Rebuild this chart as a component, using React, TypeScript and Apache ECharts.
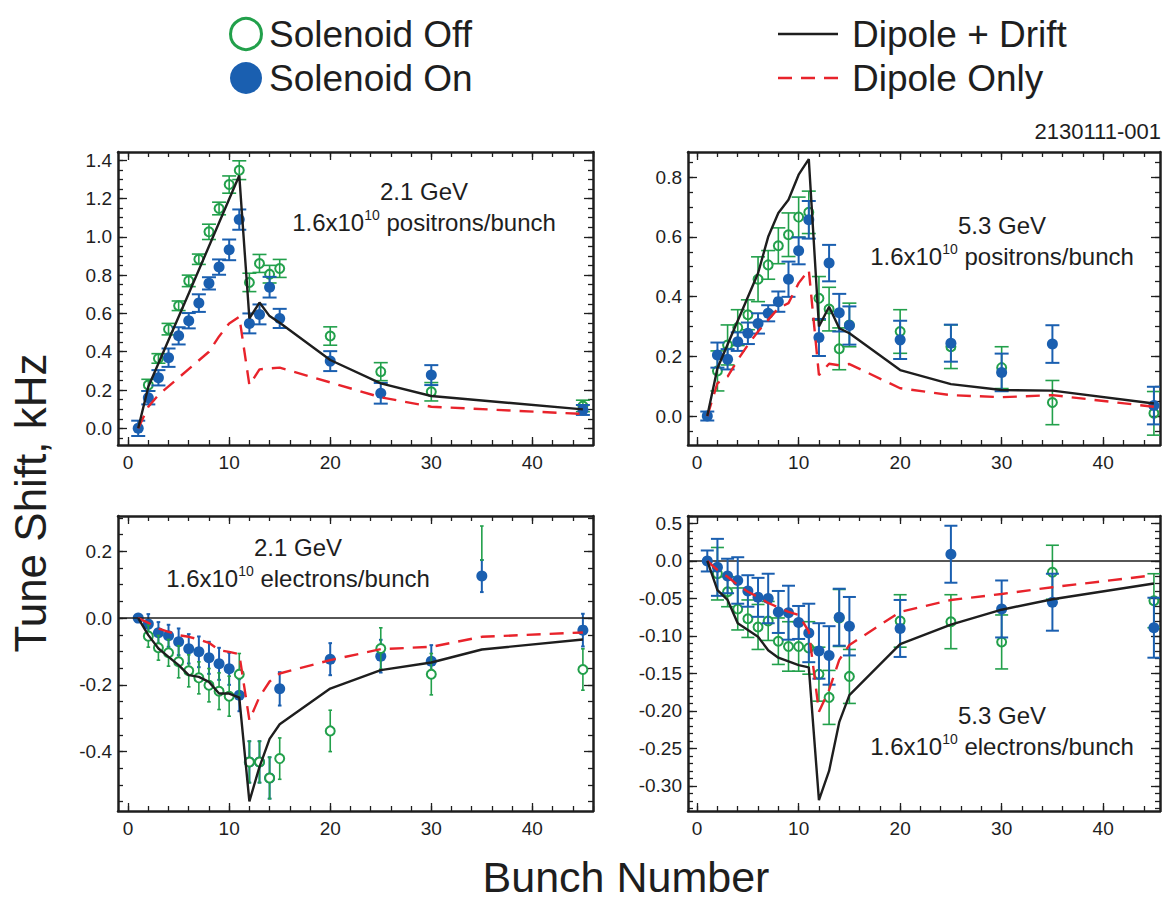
import React, { useEffect, useRef } from 'react';
import * as echarts from 'echarts';

const FONT = "'Liberation Sans', Arial, Helvetica, sans-serif";
const GREEN = '#22a04b';
const BLUE = '#1a5fb0';
const RED = '#e8232b';
const BLACK = '#1e1e1e';

// ---------- shared ticks ----------
const xTickValues = [0, 10, 20, 30, 40];
const xTickLabels = ['0', '10', '20', '30', '40'];

// ---------- top-left: 2.1 GeV positrons ----------
const tlOnX = [1, 2, 3, 4, 5, 6, 7, 8, 9, 10, 11, 12, 13, 14, 15, 20, 25, 30, 45];
const tlOn = [0.0, 0.16, 0.264, 0.369, 0.483, 0.562, 0.654, 0.757, 0.842, 0.932, 1.09, 0.548, 0.595, 0.737, 0.574, 0.351, 0.183, 0.278, 0.096];
const tlOnErr = [0.04, 0.035, 0.04, 0.048, 0.045, 0.04, 0.046, 0.032, 0.04, 0.054, 0.053, 0.052, 0.052, 0.054, 0.05, 0.052, 0.054, 0.052, 0.026];
const tlOffX = [2, 3, 4, 5, 6, 7, 8, 9, 10, 11, 12, 13, 14, 15, 20, 25, 30, 45];
const tlOff = [0.226, 0.365, 0.518, 0.64, 0.77, 0.883, 1.026, 1.148, 1.273, 1.348, 0.762, 0.861, 0.805, 0.835, 0.482, 0.296, 0.191, 0.117];
const tlOffErr = [0.03, 0.025, 0.03, 0.025, 0.03, 0.027, 0.04, 0.033, 0.045, 0.049, 0.048, 0.047, 0.046, 0.047, 0.048, 0.047, 0.048, 0.03];
const tlDriftX = [1, 2, 6, 11, 12, 13, 14, 15, 20, 25, 30, 45];
const tlDrift = [0, 0.217, 0.704, 1.32, 0.574, 0.657, 0.586, 0.551, 0.357, 0.235, 0.169, 0.099];
const tlDipoleX = [1, 2, 3, 8, 9, 10, 11, 12, 13, 15, 20, 25, 30, 45];
const tlDipole = [0, 0.113, 0.174, 0.4, 0.48, 0.548, 0.583, 0.226, 0.308, 0.317, 0.24, 0.162, 0.113, 0.075];
const tlYTicks = [0, 0.2, 0.4, 0.6, 0.8, 1.0, 1.2, 1.4];
const tlYLabels = ['0.0', '0.2', '0.4', '0.6', '0.8', '1.0', '1.2', '1.4'];

// ---------- top-right: 5.3 GeV positrons ----------
const trOnX = [1, 2, 3, 4, 5, 6, 7, 8, 9, 10, 11, 12, 13, 14, 15, 20, 25, 30, 35, 45];
const trOn = [0.0, 0.204, 0.19, 0.249, 0.277, 0.31, 0.344, 0.383, 0.458, 0.553, 0.657, 0.263, 0.512, 0.346, 0.303, 0.255, 0.244, 0.146, 0.241, 0.035];
const trOnErr = [0.015, 0.042, 0.034, 0.031, 0.036, 0.034, 0.027, 0.034, 0.059, 0.045, 0.063, 0.062, 0.061, 0.063, 0.064, 0.064, 0.062, 0.063, 0.063, 0.063];
const trOffX = [2, 3, 4, 5, 6, 7, 8, 9, 10, 11, 12, 13, 14, 15, 20, 25, 30, 35, 45];
const trOff = [0.151, 0.238, 0.296, 0.339, 0.458, 0.506, 0.57, 0.607, 0.666, 0.682, 0.394, 0.358, 0.225, 0.305, 0.283, 0.232, 0.162, 0.045, 0.009];
const trOffErr = [0.067, 0.067, 0.06, 0.05, 0.075, 0.048, 0.06, 0.073, 0.067, 0.071, 0.073, 0.073, 0.07, 0.073, 0.073, 0.073, 0.07, 0.074, 0.073];
const trDriftX = [1, 2, 6, 7, 8, 9, 10, 11, 12, 13, 14, 15, 20, 25, 30, 35, 45];
const trDrift = [0, 0.16, 0.478, 0.6, 0.68, 0.724, 0.808, 0.86, 0.3, 0.366, 0.294, 0.277, 0.154, 0.107, 0.087, 0.085, 0.042];
const trDipoleX = [1, 2, 3, 4, 5, 6, 7, 8, 9, 10, 11, 12, 13, 14, 15, 20, 25, 30, 35, 45];
const trDipole = [0, 0.11, 0.132, 0.188, 0.238, 0.283, 0.322, 0.361, 0.378, 0.445, 0.489, 0.137, 0.175, 0.17, 0.174, 0.093, 0.07, 0.063, 0.07, 0.031];
const trYTicks = [0, 0.2, 0.4, 0.6, 0.8];
const trYLabels = ['0.0', '0.2', '0.4', '0.6', '0.8'];

// ---------- bottom-left: 2.1 GeV electrons ----------
const blOnX = [1, 2, 3, 4, 5, 6, 7, 8, 9, 10, 11, 12, 13, 14, 15, 20, 25, 30, 35, 45];
const blOn = [0, -0.018, -0.044, -0.053, -0.071, -0.092, -0.101, -0.119, -0.137, -0.152, -0.231, -0.431, -0.431, -0.479, -0.212, -0.123, -0.114, -0.129, 0.126, -0.036];
const blOnErr = [0.01, 0.03, 0.032, 0.033, 0.04, 0.044, 0.046, 0.048, 0.048, 0.048, 0.048, 0.062, 0.062, 0.062, 0.05, 0.048, 0.049, 0.048, 0.048, 0.049];
const blOffX = [2, 3, 4, 5, 6, 7, 8, 9, 10, 11, 12, 13, 14, 15, 20, 25, 30, 35, 45];
const blOff = [-0.054, -0.089, -0.104, -0.131, -0.158, -0.179, -0.201, -0.219, -0.234, -0.168, -0.431, -0.431, -0.479, -0.421, -0.338, -0.091, -0.168, 0.225, -0.154];
const blOffErr = [0.033, 0.037, 0.04, 0.048, 0.048, 0.048, 0.05, 0.055, 0.06, 0.062, 0.062, 0.062, 0.062, 0.062, 0.062, 0.062, 0.062, 0.051, 0.062];
const blOffBarOnly = [35];
const blDriftX = [1, 2, 3, 4, 5, 6, 7, 8, 9, 10, 11, 12, 13, 14, 15, 20, 25, 30, 35, 45];
const blDrift = [0, -0.051, -0.091, -0.116, -0.141, -0.171, -0.176, -0.191, -0.226, -0.226, -0.238, -0.549, -0.446, -0.362, -0.318, -0.211, -0.156, -0.133, -0.094, -0.064];
const blDipoleX = [1, 2, 3, 4, 5, 6, 7, 8, 9, 10, 11, 12, 13, 14, 15, 20, 25, 30, 35, 45];
const blDipole = [0, -0.014, -0.031, -0.041, -0.051, -0.056, -0.064, -0.074, -0.096, -0.101, -0.108, -0.306, -0.236, -0.19, -0.166, -0.126, -0.093, -0.086, -0.056, -0.043];
const blYTicks = [-0.4, -0.2, 0, 0.2];
const blYLabels = ['-0.4', '-0.2', '0.0', '0.2'];

// ---------- bottom-right: 5.3 GeV electrons ----------
const brOnX = [1, 2, 3, 4, 5, 6, 7, 8, 9, 10, 11, 12, 13, 14, 15, 20, 25, 30, 35, 45];
const brOn = [0, -0.0085, -0.02, -0.026, -0.04, -0.0485, -0.05, -0.068, -0.069, -0.082, -0.096, -0.12, -0.126, -0.075, -0.087, -0.09, 0.009, -0.064, -0.055, -0.089];
const brOnErr = [0.014, 0.038, 0.023, 0.031, 0.021, 0.026, 0.033, 0.028, 0.036, 0.022, 0.039, 0.037, 0.039, 0.038, 0.039, 0.038, 0.038, 0.038, 0.038, 0.04];
const brOffX = [2, 3, 4, 5, 6, 7, 8, 9, 10, 11, 12, 13, 14, 15, 20, 25, 30, 35, 45];
const brOff = [-0.017, -0.041, -0.064, -0.077, -0.088, -0.08, -0.107, -0.114, -0.114, -0.116, -0.151, -0.182, -0.076, -0.154, -0.08, -0.081, -0.108, -0.015, -0.053];
const brOffErr = [0.035, 0.02, 0.028, 0.025, 0.03, 0.026, 0.031, 0.033, 0.033, 0.035, 0.036, 0.036, 0.038, 0.036, 0.035, 0.036, 0.036, 0.036, 0.036];
const brDriftX = [1, 2, 3, 4, 5, 6, 7, 8, 9, 10, 11, 12, 13, 14, 15, 20, 25, 30, 35, 45];
const brDrift = [0, -0.039, -0.052, -0.083, -0.092, -0.101, -0.119, -0.129, -0.134, -0.139, -0.142, -0.319, -0.28, -0.215, -0.179, -0.111, -0.085, -0.065, -0.051, -0.03];
const brDipoleX = [1, 2, 3, 4, 5, 6, 7, 8, 9, 10, 11, 12, 13, 14, 15, 20, 25, 30, 35, 45];
const brDipole = [0, -0.012, -0.021, -0.032, -0.041, -0.048, -0.056, -0.062, -0.068, -0.072, -0.094, -0.201, -0.172, -0.132, -0.112, -0.068, -0.052, -0.044, -0.035, -0.019];
const brYTicks = [-0.3, -0.25, -0.2, -0.15, -0.1, -0.05, 0, 0.05];
const brYLabels = ['-0.30', '-0.25', '-0.20', '-0.15', '-0.10', '-0.05', '0.0', '0.5'];

function steps(a: number, b: number, step: number): number[] {
  const out: number[] = [];
  const n = Math.round((b - a) / step);
  for (let i = 0; i <= n; i++) out.push(+(a + i * step).toFixed(4));
  return out;
}

type Panel = {
  rect: [number, number, number, number];
  xMin: number; xMax: number; yMin: number; yMax: number;
  xMinor: number[];
  yTicks: number[]; yLabels: string[]; yMinor: number[];
  onX: number[]; on: number[]; onErr: number[];
  offX: number[]; off: number[]; offErr: number[]; offBarOnly: number[];
  driftX: number[]; drift: number[]; dipoleX: number[]; dipole: number[];
  cap: number; greenOnTop: boolean; zeroLine: boolean;
  label1: string; particle: string;
  labelPos: [number, number];
};

const panels: Panel[] = [
  {
    rect: [118, 152, 475, 293], xMin: -1, xMax: 46, yMin: -0.087, yMax: 1.443,
    xMinor: steps(0, 46, 2), yTicks: tlYTicks, yLabels: tlYLabels, yMinor: steps(-0.05, 1.4, 0.05),
    onX: tlOnX, on: tlOn, onErr: tlOnErr, offX: tlOffX, off: tlOff, offErr: tlOffErr, offBarOnly: [],
    driftX: tlDriftX, drift: tlDrift, dipoleX: tlDipoleX, dipole: tlDipole,
    cap: 7, greenOnTop: false, zeroLine: false,
    label1: '2.1 GeV', particle: 'positrons/bunch', labelPos: [424, 191],
  },
  {
    rect: [688, 152, 472, 293], xMin: -0.9, xMax: 45.6, yMin: -0.097, yMax: 0.884,
    xMinor: steps(0, 44, 2), yTicks: trYTicks, yLabels: trYLabels, yMinor: steps(-0.05, 0.85, 0.05),
    onX: trOnX, on: trOn, onErr: trOnErr, offX: trOffX, off: trOff, offErr: trOffErr, offBarOnly: [],
    driftX: trDriftX, drift: trDrift, dipoleX: trDipoleX, dipole: trDipole,
    cap: 7, greenOnTop: false, zeroLine: false,
    label1: '5.3 GeV', particle: 'positrons/bunch', labelPos: [1002, 225],
  },
  {
    rect: [118, 516, 475, 295], xMin: -1, xMax: 46, yMin: -0.578, yMax: 0.306,
    xMinor: steps(0, 46, 2), yTicks: blYTicks, yLabels: blYLabels, yMinor: steps(-0.55, 0.3, 0.05),
    onX: blOnX, on: blOn, onErr: blOnErr, offX: blOffX, off: blOff, offErr: blOffErr, offBarOnly: blOffBarOnly,
    driftX: blDriftX, drift: blDrift, dipoleX: blDipoleX, dipole: blDipole,
    cap: 1.8, greenOnTop: true, zeroLine: true,
    label1: '2.1 GeV', particle: 'electrons/bunch', labelPos: [298, 547],
  },
  {
    rect: [688, 516, 472, 295], xMin: -0.9, xMax: 45.6, yMin: -0.3335, yMax: 0.06,
    xMinor: steps(0, 44, 2), yTicks: brYTicks, yLabels: brYLabels, yMinor: steps(-0.33, 0.06, 0.01),
    onX: brOnX, on: brOn, onErr: brOnErr, offX: brOffX, off: brOff, offErr: brOffErr, offBarOnly: [],
    driftX: brDriftX, drift: brDrift, dipoleX: brDipoleX, dipole: brDipole,
    cap: 6.5, greenOnTop: false, zeroLine: true,
    label1: '5.3 GeV', particle: 'electrons/bunch', labelPos: [1002, 715],
  },
];

function errorBars(xs: number[], ys: number[], es: number[], color: string, width: number, cap: number, xi: number, z: number) {
  return {
    type: 'custom',
    xAxisIndex: xi, yAxisIndex: xi, z, silent: true, clip: true,
    data: xs.map((x, k) => [x, ys[k], es[k]]),
    encode: { x: 0, y: 1 },
    renderItem: (_p: any, api: any) => {
      const x = api.value(0), y = api.value(1), e = api.value(2);
      const a = api.coord([x, y + e]);
      const b = api.coord([x, y - e]);
      const style = { stroke: color, lineWidth: width, fill: 'none' };
      return {
        type: 'group',
        children: [
          { type: 'line', shape: { x1: a[0], y1: a[1], x2: b[0], y2: b[1] }, style },
          { type: 'line', shape: { x1: a[0] - cap, y1: a[1], x2: a[0] + cap, y2: a[1] }, style },
          { type: 'line', shape: { x1: b[0] - cap, y1: b[1], x2: b[0] + cap, y2: b[1] }, style },
        ],
      };
    },
  };
}

function buildOption() {
  const grid: any[] = [];
  const xAxis: any[] = [];
  const yAxis: any[] = [];
  const series: any[] = [];
  const axisLine = { show: true, onZero: false, lineStyle: { color: BLACK, width: 2.5 } };
  const tickStyle = { color: BLACK, width: 1.3 };

  panels.forEach((p, i) => {
    grid.push({ left: p.rect[0], top: p.rect[1], width: p.rect[2], height: p.rect[3], containLabel: false });
    const xBase = { type: 'value', gridIndex: i, min: p.xMin, max: p.xMax, splitLine: { show: false } };
    const yBase = { type: 'value', gridIndex: i, min: p.yMin, max: p.yMax, splitLine: { show: false } };
    xAxis.push({
      ...xBase, position: 'bottom', axisLine,
      axisTick: { show: true, inside: true, length: 8, customValues: xTickValues, lineStyle: tickStyle },
      axisLabel: {
        show: true, customValues: xTickValues, fontSize: 19, color: BLACK, fontFamily: FONT, margin: 8,
        formatter: (v: number) => { const k = xTickValues.findIndex((t) => Math.abs(t - v) < 1e-9); return k >= 0 ? xTickLabels[k] : ''; },
      },
    });
    xAxis.push({
      ...xBase, position: 'bottom', axisLine: { show: false, onZero: false },
      axisTick: { show: true, inside: true, length: 5, customValues: p.xMinor, lineStyle: tickStyle },
      axisLabel: { show: false },
    });
    xAxis.push({
      ...xBase, position: 'top', axisLine,
      axisTick: { show: true, inside: true, length: 8, customValues: xTickValues, lineStyle: tickStyle },
      axisLabel: { show: false },
    });
    xAxis.push({
      ...xBase, position: 'top', axisLine: { show: false, onZero: false },
      axisTick: { show: true, inside: true, length: 5, customValues: p.xMinor, lineStyle: tickStyle },
      axisLabel: { show: false },
    });
    yAxis.push({
      ...yBase, position: 'left', axisLine,
      axisTick: { show: true, inside: true, length: 9, customValues: p.yTicks, lineStyle: tickStyle },
      axisLabel: {
        show: true, customValues: p.yTicks, fontSize: 19, color: BLACK, fontFamily: FONT, margin: 6,
        formatter: (v: number) => { const k = p.yTicks.findIndex((t) => Math.abs(t - v) < 1e-9); return k >= 0 ? p.yLabels[k] : ''; },
      },
    });
    yAxis.push({
      ...yBase, position: 'left', axisLine: { show: false, onZero: false },
      axisTick: { show: true, inside: true, length: 5, customValues: p.yMinor, lineStyle: tickStyle },
      axisLabel: { show: false },
    });
    yAxis.push({
      ...yBase, position: 'right', axisLine,
      axisTick: { show: true, inside: true, length: 9, customValues: p.yTicks, lineStyle: tickStyle },
      axisLabel: { show: false },
    });
    yAxis.push({
      ...yBase, position: 'right', axisLine: { show: false, onZero: false },
      axisTick: { show: true, inside: true, length: 5, customValues: p.yMinor, lineStyle: tickStyle },
      axisLabel: { show: false },
    });

    const ai = i * 4;
    const blueZ = p.greenOnTop ? 3 : 5;
    const greenZ = p.greenOnTop ? 5 : 3;
    const greenFill = p.greenOnTop ? '#ffffff' : 'rgba(255,255,255,0)';

    series.push(errorBars(p.onX, p.on, p.onErr, BLUE, 2, p.cap, ai, blueZ));
    series.push({
      type: 'scatter', xAxisIndex: ai, yAxisIndex: ai, z: blueZ, silent: true,
      symbol: 'circle', symbolSize: 11,
      itemStyle: { color: BLUE, opacity: 1 },
      data: p.onX.map((x, k) => [x, p.on[k]]),
    });
    series.push(errorBars(p.offX, p.off, p.offErr, GREEN, 1.6, p.cap, ai, greenZ));
    series.push({
      type: 'scatter', xAxisIndex: ai, yAxisIndex: ai, z: greenZ, silent: true,
      symbol: 'circle', symbolSize: 9,
      itemStyle: { color: greenFill, borderColor: GREEN, borderWidth: 2, opacity: 1 },
      data: p.offX.map((x, k) => (p.offBarOnly.includes(x) ? { value: [x, p.off[k]], symbolSize: 0 } : [x, p.off[k]])),
    });
    series.push({
      type: 'line', xAxisIndex: ai, yAxisIndex: ai, z: 7, silent: true, symbol: 'none',
      lineStyle: { color: BLACK, width: 2.4 },
      data: p.driftX.map((x, k) => [x, p.drift[k]]),
      markLine: p.zeroLine
        ? { silent: true, symbol: 'none', label: { show: false }, lineStyle: { color: BLACK, width: 1.5, type: 'solid' }, data: [{ yAxis: 0 }] }
        : undefined,
    });
    series.push({
      type: 'line', xAxisIndex: ai, yAxisIndex: ai, z: 6, silent: true, symbol: 'none',
      lineStyle: { color: RED, width: 2.4, type: [14, 9] },
      data: p.dipoleX.map((x, k) => [x, p.dipole[k]]),
    });
  });

  const panelTexts: any[] = [];
  panels.forEach((p) => {
    panelTexts.push({
      type: 'text', x: p.labelPos[0], y: p.labelPos[1], silent: true,
      style: {
        text: p.label1, fontSize: 24, fontFamily: FONT, fill: BLACK,
        align: 'center', verticalAlign: 'middle', textAlign: 'center', textVerticalAlign: 'middle',
      },
    });
    panelTexts.push({
      type: 'text', x: p.labelPos[0], y: p.labelPos[1] + 31, silent: true,
      style: {
        text: '{n|1.6x10}{s|10}{n| ' + p.particle + '}',
        rich: {
          n: { fontSize: 24, fontFamily: FONT, fill: BLACK, lineHeight: 28 },
          s: { fontSize: 14, fontFamily: FONT, fill: BLACK, lineHeight: 14, verticalAlign: 'top' },
        },
        align: 'center', verticalAlign: 'middle', textAlign: 'center', textVerticalAlign: 'middle',
      },
    });
  });

  const legendFont = { fontSize: 37, fontFamily: FONT, fill: BLACK, align: 'left', verticalAlign: 'middle', textAlign: 'left', textVerticalAlign: 'middle' };

  const graphic = [
    { type: 'circle', silent: true, shape: { cx: 246, cy: 34, r: 15.5 }, style: { fill: 'none', stroke: GREEN, lineWidth: 3 } },
    { type: 'text', silent: true, x: 269, y: 34, style: { ...legendFont, text: 'Solenoid Off' } },
    { type: 'circle', silent: true, shape: { cx: 246, cy: 78, r: 16 }, style: { fill: BLUE } },
    { type: 'text', silent: true, x: 269, y: 78, style: { ...legendFont, text: 'Solenoid On' } },
    { type: 'line', silent: true, shape: { x1: 778, y1: 34, x2: 838, y2: 34 }, style: { stroke: BLACK, lineWidth: 2.5 } },
    { type: 'text', silent: true, x: 852, y: 34, style: { ...legendFont, text: 'Dipole + Drift' } },
    { type: 'line', silent: true, shape: { x1: 778, y1: 78, x2: 840, y2: 78 }, style: { stroke: RED, lineWidth: 2.5, lineDash: [14, 9] } },
    { type: 'text', silent: true, x: 852, y: 78, style: { ...legendFont, text: 'Dipole Only' } },
    {
      type: 'text', silent: true, x: 1161, y: 131,
      style: { text: '2130111-001', fontSize: 22, fontFamily: FONT, fill: BLACK, align: 'right', verticalAlign: 'middle', textAlign: 'right', textVerticalAlign: 'middle' },
    },
    {
      type: 'text', silent: true, x: 30, y: 503, rotation: Math.PI / 2,
      style: { text: 'Tune Shift, kHz', fontSize: 44, fontFamily: FONT, fill: BLACK, align: 'center', verticalAlign: 'middle', textAlign: 'center', textVerticalAlign: 'middle' },
    },
    {
      type: 'text', silent: true, x: 626, y: 877,
      style: { text: 'Bunch Number', fontSize: 43, fontFamily: FONT, fill: BLACK, align: 'center', verticalAlign: 'middle', textAlign: 'center', textVerticalAlign: 'middle' },
    },
    ...panelTexts,
  ];

  return {
    animation: false,
    backgroundColor: '#ffffff',
    grid, xAxis, yAxis, series, graphic,
  };
}

export default function App() {
  const ref = useRef<HTMLDivElement>(null);
  useEffect(() => {
    if (!ref.current) return;
    const chart = echarts.init(ref.current, undefined, { renderer: 'svg' });
    chart.setOption(buildOption() as any);
    return () => chart.dispose();
  }, []);
  return <div ref={ref} style={{ position: 'absolute', left: 0, top: 0, width: 1164, height: 901, background: '#fff' }} />;
}
